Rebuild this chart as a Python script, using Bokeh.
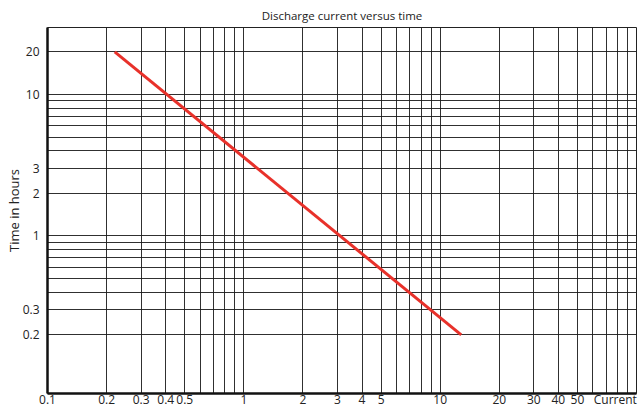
import math
from bokeh.plotting import figure
from bokeh.models import FixedTicker, Range1d
from bokeh.embed import file_html
from bokeh.resources import INLINE

# Data
current = [0.22, 12.8]
hours = [20, 0.2]

x_tick_values = [0.1, 0.2, 0.3, 0.4, 0.5, 1, 2, 3, 4, 5, 10, 20, 30, 40, 50, 78]
x_tick_labels = ["0.1", "0.2", "0.3", "0.4", "0.5", "1", "2", "3", "4", "5", "10", "20", "30", "40", "50", "Current"]
y_tick_values = [0.2, 0.3, 1, 2, 3, 10, 20]
y_tick_labels = ["0.2", "0.3", "1", "2", "3", "10", "20"]

x_grid = [0.2, 0.3, 0.4, 0.5, 0.6, 0.7, 0.8, 0.9,
          1, 2, 3, 4, 5, 6, 7, 8, 9,
          10, 20, 30, 40, 50, 60, 70, 80, 90]
y_grid = [0.2, 0.3, 0.4, 0.5, 0.6, 0.7, 0.8, 0.9,
          1, 2, 3, 4, 5, 6, 7, 8, 9, 10, 20]

x_min, x_max = 0.1, 100
y_min, y_max = 0.077, 29.7

FONT = "Open Sans"
TXT = "#222222"

p = figure(width=638, height=411, x_axis_type="log", y_axis_type="log",
           x_range=Range1d(x_min, x_max), y_range=Range1d(y_min, y_max),
           output_backend="svg", toolbar_location=None,
           min_border_left=47, min_border_right=2, min_border_top=27, min_border_bottom=18)

p.title.text = "Discharge current versus time"
p.title.align = "center"
p.title.text_font = FONT
p.title.text_font_size = "11.5px"
p.title.text_font_style = "normal"
p.title.text_color = TXT

p.outline_line_color = "#222222"
p.outline_line_width = 1
p.background_fill_color = "white"
p.border_fill_color = "white"

# Axes
p.xaxis.ticker = FixedTicker(ticks=x_tick_values)
p.xaxis.major_label_overrides = {v: l for v, l in zip(x_tick_values, x_tick_labels)}
p.yaxis.ticker = FixedTicker(ticks=y_tick_values)
p.yaxis.major_label_overrides = {v: l for v, l in zip(y_tick_values, y_tick_labels)}
for ax in (p.xaxis, p.yaxis):
    ax.major_tick_line_color = None
    ax.minor_tick_line_color = None
    ax.major_tick_out = 0
    ax.major_tick_in = 0
    ax.minor_tick_out = 0
    ax.minor_tick_in = 0
    ax.axis_line_color = "#111111"
    ax.axis_line_width = 2.5
    ax.major_label_text_font = FONT
    ax.major_label_text_font_size = "12px"
    ax.major_label_text_color = TXT
p.xaxis.major_label_standoff = -3
p.yaxis.major_label_standoff = 8

p.yaxis.axis_label = "Time in hours"
p.yaxis.axis_label_text_font = FONT
p.yaxis.axis_label_text_font_size = "13px"
p.yaxis.axis_label_text_font_style = "normal"
p.yaxis.axis_label_text_color = TXT
p.yaxis.axis_label_standoff = -3

# Grid
p.xgrid.ticker = FixedTicker(ticks=x_grid)
p.ygrid.ticker = FixedTicker(ticks=y_grid)
for g in (p.xgrid, p.ygrid):
    g.grid_line_color = "#1a1a1a"
    g.grid_line_width = 1
    g.grid_line_alpha = 0.9

# Discharge line
p.line(current, hours, line_color="#e8312a", line_width=3)

open("out.html", "w").write(file_html(p, INLINE))
